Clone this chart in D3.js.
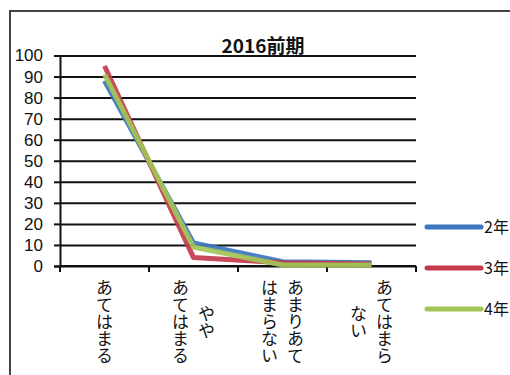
<!DOCTYPE html>
<html>
<head>
<meta charset="utf-8">
<script src="https://cdn.jsdelivr.net/npm/d3@7"></script>
<style>
  body { margin: 0; background: #fff; }
  svg text { font-family: "Noto Sans CJK JP", "Liberation Sans", sans-serif; }
</style>
</head>
<body>
<div id="chart"></div>
<script>
/* line chart, 2016 first term survey */

const categories = ["あてはまる", "ややあてはまる", "あまりあてはまらない", "あてはまらない"];
const catLines = [["あてはまる"], ["やや", "あてはまる"], ["あまりあて", "はまらない"], ["あてはまら", "ない"]];
const seriesNames = ["2年", "3年", "4年"];
const year2 = [88, 11, 2, 1.5];
const year3 = [95, 4, 1.5, 1];
const year4 = [91, 9, 0.5, 0.5];
const yTicks = [0, 10, 20, 30, 40, 50, 60, 70, 80, 90, 100];
const colors = ["#3b76bf", "#c23a4c", "#a3c556"];

const width = 510,
      height = 375,
      margin = ({top: 55.5, right: 94, bottom: 109, left: 60});

let svg = d3.select("#chart")
    .append("svg")
    .attr("width", width)
    .attr("height", height);

// outer frame (cut by the page edge)
svg.append("rect")
    .attr("x", 10).attr("y", 11)
    .attr("width", 520).attr("height", 400)
    .attr("fill", "none")
    .attr("stroke", "#444")
    .attr("stroke-width", 2);

let x = d3.scaleBand()
    .domain(categories)
    .range([margin.left, width - margin.right]);

let y = d3.scaleLinear()
    .domain([0, 100])
    .range([height - margin.bottom, margin.top]);

// gridlines + y axis
svg.append("g")
    .attr("transform", `translate(${margin.left},0)`)
    .call(d3.axisLeft(y).tickValues(yTicks).tickSize(6).tickPadding(11))
    .call(g => g.select(".domain").attr("stroke", "#111").attr("stroke-width", 2))
    .call(g => g.selectAll(".tick line").attr("stroke", "#111").attr("stroke-width", 2))
    .call(g => g.selectAll(".tick text")
        .attr("font-size", 17)
        .attr("fill", "#111")
        .style("font-family", "'Liberation Sans', sans-serif"))
    .call(g => g.selectAll(".tick").append("line")
        .attr("x1", 0)
        .attr("x2", width - margin.right - margin.left)
        .attr("stroke", "#111")
        .attr("stroke-width", 2));

// x axis with ticks between categories
let xTickPos = categories.map(c => x(c)).concat([x.range()[1]]);
let xa = svg.append("g");
xa.append("line")
    .attr("x1", margin.left).attr("x2", width - margin.right)
    .attr("y1", y(0)).attr("y2", y(0))
    .attr("stroke", "#111").attr("stroke-width", 2);
xa.selectAll(".xt")
    .data(xTickPos)
    .join("line")
    .attr("class", "xt")
    .attr("x1", d => d).attr("x2", d => d)
    .attr("y1", y(0)).attr("y2", y(0) + 6)
    .attr("stroke", "#111").attr("stroke-width", 2);

// vertical category labels
let lab = svg.selectAll(".lab")
    .data(categories)
    .join("g")
    .attr("class", "lab");

lab.each(function(c, i) {
    let lines = catLines[i];
    let n = lines.length;
    let cx = x(c) + x.bandwidth() / 2;
    d3.select(this).selectAll("text")
        .data(lines)
        .join("text")
        .text(d => d)
        .attr("x", (d, j) => cx + ((n - 1) / 2 - j) * 26)
        .attr("y", 322)
        .attr("writing-mode", "vertical-rl")
        .attr("text-anchor", "middle")
        .attr("dominant-baseline", "central")
        .attr("font-size", 17)
        .attr("fill", "#111");
});

// series lines
let data = [year2, year3, year4];
let line = d3.line()
    .x((d, i) => x(categories[i]) + x.bandwidth() / 2)
    .y(d => y(d));

svg.selectAll(".series")
    .data(data)
    .join("path")
    .attr("class", "series")
    .attr("d", line)
    .attr("fill", "none")
    .attr("stroke", (d, i) => colors[i])
    .attr("stroke-width", 5)
    .attr("stroke-linejoin", "round")
    .attr("opacity", 0.92);

// title
svg.append("text")
    .text("2016前期")
    .attr("x", 263)
    .attr("y", 53)
    .attr("text-anchor", "middle")
    .attr("font-size", 19)
    .attr("font-weight", "bold")
    .attr("fill", "#111");

// legend
let legY = [227, 268, 309];
let leg = svg.selectAll(".leg")
    .data(seriesNames)
    .join("g")
    .attr("class", "leg")
    .attr("transform", (d, i) => `translate(427,${legY[i]})`);

leg.append("line")
    .attr("x1", 0).attr("x2", 54)
    .attr("stroke", (d, i) => colors[i])
    .attr("stroke-width", 5)
    .attr("stroke-linecap", "round");

leg.append("text")
    .text(d => d)
    .attr("x", 57)
    .attr("dy", "0.36em")
    .attr("font-size", 16)
    .attr("fill", "#111");
</script>
</body>
</html>
